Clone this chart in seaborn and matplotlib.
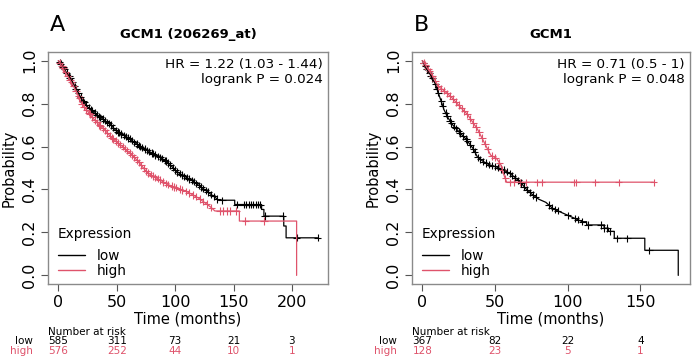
import numpy as np
import pandas as pd
import matplotlib
matplotlib.use("Agg")
import matplotlib.pyplot as plt
import matplotlib.transforms as mtransforms
from matplotlib.lines import Line2D
import seaborn as sns

sns.set_style("white")
plt.rcParams['font.family'] = ['DejaVu Sans']
plt.rcParams['text.color'] = 'black'
plt.rcParams['axes.labelcolor'] = 'black'
plt.rcParams['xtick.color'] = 'black'
plt.rcParams['ytick.color'] = 'black'

# ---- panel A : GCM1 (206269_at) ----
low_a_t = [0, 5, 10, 15, 20, 25, 30, 35, 40, 45, 50, 55, 60, 65, 70, 75, 80, 85, 90, 95, 100,
           105, 110, 115, 120, 125, 130, 135, 137, 151, 151, 174, 174, 176, 176, 193, 193, 195, 195, 222]
low_a_s = [1.0, 0.96, 0.92, 0.87, 0.82, 0.785, 0.76, 0.74, 0.72, 0.70, 0.67, 0.655, 0.64, 0.62, 0.60,
           0.585, 0.57, 0.555, 0.54, 0.52, 0.49, 0.47, 0.455, 0.44, 0.42, 0.40, 0.38, 0.36, 0.35, 0.35,
           0.33, 0.33, 0.307, 0.307, 0.276, 0.276, 0.23, 0.23, 0.175, 0.175]
high_a_t = [0, 5, 10, 15, 20, 25, 30, 35, 40, 45, 50, 55, 60, 65, 70, 75, 80, 85, 90, 95, 100,
            105, 110, 115, 120, 125, 130, 134, 155, 155, 204, 204]
high_a_s = [1.0, 0.955, 0.91, 0.86, 0.80, 0.765, 0.73, 0.70, 0.675, 0.645, 0.62, 0.60, 0.575, 0.55,
            0.52, 0.485, 0.465, 0.45, 0.435, 0.42, 0.41, 0.40, 0.39, 0.375, 0.36, 0.34, 0.32, 0.30,
            0.30, 0.253, 0.253, 0.0]
cens_low_a = [1, 2, 4, 5, 7, 9, 10, 12, 14, 15, 17, 19, 21, 22, 24, 26, 28, 29, 31, 33, 35, 36, 38, 40,
              42, 43, 45, 47, 49, 51, 52, 54, 56, 58, 60, 61, 63, 65, 67, 69, 70, 72, 74, 76, 78, 80,
              81, 83, 85, 87, 89, 91, 92, 94, 96, 98, 100, 102, 104, 106, 108, 110, 112, 114, 116, 118,
              120, 122, 124, 126, 128, 131, 133, 136, 140, 153, 159, 161, 163, 165, 167, 169, 171, 173,
              177, 192, 204, 222]
cens_high_a = [1, 3, 4, 6, 8, 10, 11, 13, 15, 17, 18, 20, 22, 24, 26, 27, 29, 31, 33, 35, 36, 38, 40,
               42, 44, 46, 47, 49, 51, 53, 55, 57, 59, 61, 63, 65, 67, 69, 71, 73, 75, 77, 79, 81, 83,
               85, 87, 90, 92, 94, 97, 99, 101, 104, 106, 109, 112, 115, 118, 121, 124, 127, 131, 138,
               141, 144, 147, 152, 160, 176]
risk_times_a = [0, 50, 100, 150, 200]
risk_low_a = [585, 311, 73, 21, 3]
risk_high_a = [576, 252, 44, 10, 1]

# ---- panel B : GCM1 ----
low_b_t = [0, 3, 6, 9, 12, 15, 18, 21, 25, 30, 35, 38, 42, 46, 51, 56, 60, 64, 68, 71, 75, 80, 85,
           90, 95, 100, 105, 110, 113, 113, 125, 125, 128, 128, 132, 132, 153, 153, 176, 176]
low_b_s = [1.0, 0.96, 0.93, 0.89, 0.83, 0.77, 0.73, 0.70, 0.67, 0.635, 0.59, 0.55, 0.53, 0.515,
           0.505, 0.49, 0.475, 0.455, 0.43, 0.405, 0.38, 0.355, 0.34, 0.31, 0.295, 0.28, 0.265, 0.25,
           0.25, 0.235, 0.235, 0.22, 0.22, 0.205, 0.205, 0.173, 0.173, 0.117, 0.117, 0.0]
high_b_t = [0, 3, 7, 11, 15, 20, 24, 28, 31, 34, 38, 41, 44, 47, 51, 54, 56, 58, 159]
high_b_s = [1.0, 0.97, 0.93, 0.88, 0.86, 0.83, 0.80, 0.77, 0.75, 0.72, 0.68, 0.64, 0.60, 0.56, 0.545,
            0.515, 0.47, 0.434, 0.434]
cens_low_b = [1, 2, 3, 5, 6, 7, 9, 10, 11, 13, 14, 16, 17, 19, 20, 22, 23, 25, 26, 28, 30, 31, 33, 35,
              36, 38, 40, 42, 44, 46, 48, 50, 52, 54, 56, 58, 60, 62, 64, 66, 68, 70, 72, 74, 76, 78,
              87, 89, 91, 93, 100, 105, 107, 110, 114, 123, 125, 127, 129, 134, 141, 156]
cens_high_b = [1, 2, 4, 5, 7, 9, 11, 13, 15, 17, 19, 21, 23, 25, 27, 29, 31, 33, 35, 37, 39, 41, 43,
               45, 48, 50, 53, 55, 57, 60, 63, 67, 71, 79, 82, 104, 106, 119, 135, 159]
risk_times_b = [0, 50, 100, 150]
risk_low_b = [367, 82, 22, 4]
risk_high_b = [128, 23, 5, 1]

groups = ['low', 'high']
colors = {'low': '#000000', 'high': '#DF536B'}


def km_panel(ax, curves, cens, xmax, xticks, title, hr_text, letter, risk_t, risk_rows, fig):
    rows = []
    for g in groups:
        t, s = curves[g]
        rows.append(pd.DataFrame({'time': t, 'surv': s, 'group': g}))
    df = pd.concat(rows, ignore_index=True)
    sns.lineplot(data=df, x='time', y='surv', hue='group', hue_order=groups, palette=colors,
                 estimator=None, sort=False, linewidth=0.9, legend=False, ax=ax)
    # censoring marks sit on the curves
    crows = []
    for g in groups:
        t, s = curves[g]
        ct = np.array(cens[g], dtype=float)
        crows.append(pd.DataFrame({'time': ct, 'surv': np.interp(ct, t, s), 'group': g}))
    cdf = pd.concat(crows, ignore_index=True)
    sns.scatterplot(data=cdf, x='time', y='surv', hue='group', hue_order=groups, palette=colors,
                    marker='+', s=28, linewidth=0.8, legend=False, ax=ax)

    ax.set_xlim(-0.04 * xmax, 1.04 * xmax)
    ax.set_ylim(-0.04, 1.04)
    ax.set_xticks(xticks)
    ax.set_yticks([0, 0.2, 0.4, 0.6, 0.8, 1.0])
    ax.set_yticklabels(['0.0', '0.2', '0.4', '0.6', '0.8', '1.0'])
    ax.tick_params(axis='both', labelsize=11.5, length=5, width=0.8, color='#555555',
                   direction='out', bottom=True, left=True, pad=3)
    for lab in ax.get_yticklabels():
        lab.set_rotation(90)
        lab.set_va('center')
    for sp in ax.spines.values():
        sp.set_color('#8a8a8a')
        sp.set_linewidth(1.0)
    ax.set_xlabel('Time (months)', fontsize=10.5)
    ax.set_ylabel('Probability', fontsize=10.5)
    ax.xaxis.set_label_coords(0.5, -0.152)
    ax.yaxis.set_label_coords(-0.14, 0.5)
    ax.xaxis.label.set_va('center')
    ax.yaxis.label.set_va('center')

    ax.set_title(title, fontsize=9.5, fontweight='bold', pad=10)
    ax.text(0.982, 0.975, hr_text, transform=ax.transAxes, ha='right', va='top',
            fontsize=9.7, linespacing=1.2)

    handles = [Line2D([0], [0], color=colors[g], lw=1.0) for g in groups]
    leg = ax.legend(handles, groups, title='Expression', loc='lower left',
                    bbox_to_anchor=(0.0, -0.015), frameon=False, fontsize=9.8,
                    title_fontsize=9.8, handlelength=2.0, handletextpad=0.9,
                    labelspacing=0.08, alignment='left', borderaxespad=0.3)
    leg._legend_box.sep = 6

    pos = ax.get_position()
    fig.text(pos.x0 + 0.003, 1 - 25 / 364, letter, fontsize=16, ha='left', va='center')

    # number at risk table
    tr = mtransforms.blended_transform_factory(ax.transData, fig.transFigure)
    fig.text(pos.x0, 1 - 332 / 364, 'Number at risk', fontsize=7.5, ha='left', va='center')
    ys = [1 - 341 / 364, 1 - 351 / 364]
    for g, y, vals in zip(groups, ys, risk_rows):
        fig.text(pos.x0 - 0.022, y, g, fontsize=7.5, ha='right', va='center', color=colors[g])
        for t, v in zip(risk_t, vals):
            ax.text(t, y, str(v), transform=tr, fontsize=7.5, ha='center', va='center',
                    color=colors[g])


fig = plt.figure(figsize=(7.0, 3.64), dpi=100)
ax_a = fig.add_axes([48 / 700, 1 - 284 / 364, 280 / 700, 232 / 364])
ax_b = fig.add_axes([412 / 700, 1 - 284 / 364, 278 / 700, 232 / 364])

km_panel(ax_a, {'low': (low_a_t, low_a_s), 'high': (high_a_t, high_a_s)},
         {'low': cens_low_a, 'high': cens_high_a}, 222, [0, 50, 100, 150, 200],
         'GCM1 (206269_at)', 'HR = 1.22 (1.03 - 1.44)\nlogrank P = 0.024', 'A',
         risk_times_a, [risk_low_a, risk_high_a], fig)
km_panel(ax_b, {'low': (low_b_t, low_b_s), 'high': (high_b_t, high_b_s)},
         {'low': cens_low_b, 'high': cens_high_b}, 177, [0, 50, 100, 150],
         'GCM1', 'HR = 0.71 (0.5 - 1)\nlogrank P = 0.048', 'B',
         risk_times_b, [risk_low_b, risk_high_b], fig)

fig.savefig('out.png', dpi=100)
